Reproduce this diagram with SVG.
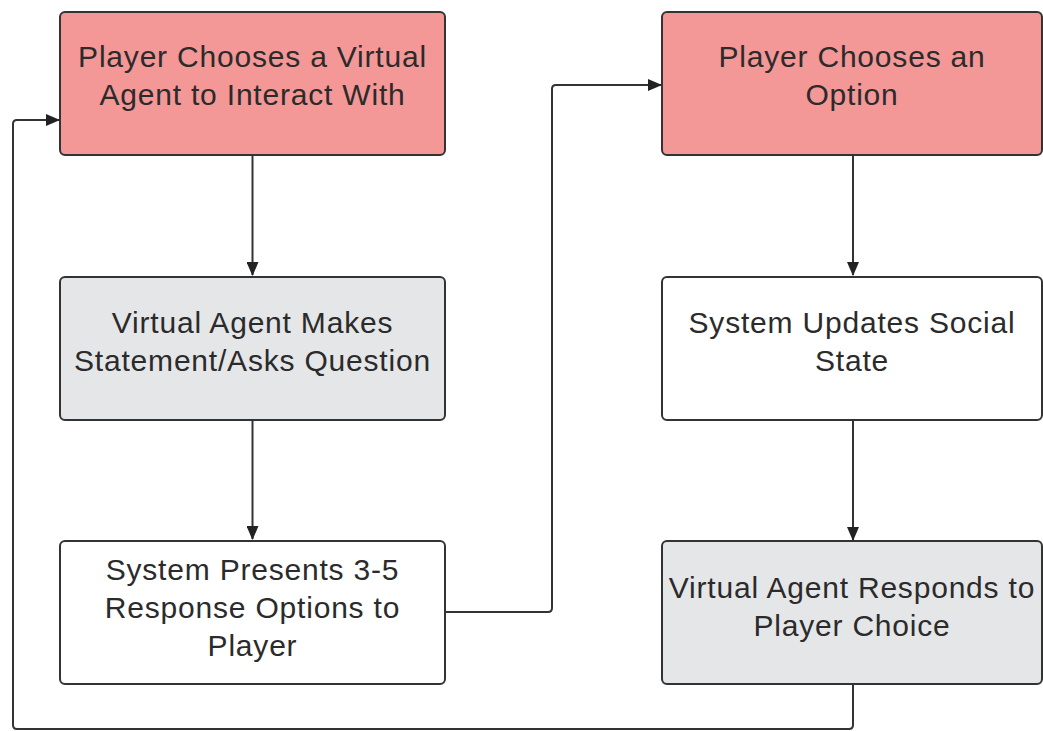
<svg xmlns="http://www.w3.org/2000/svg" width="1043" height="731" viewBox="0 0 1043 731">
<style>
.box{stroke:#333;stroke-width:2}
.red{fill:#f39797}
.gray{fill:#e5e6e8}
.white{fill:#fff}
text{font-family:"Liberation Sans",Arial,sans-serif;font-size:30px;fill:#2b2b2b;text-anchor:middle;letter-spacing:0.8px}
.conn{fill:none;stroke:#333;stroke-width:2}
</style>
<defs>
<marker id="arr" markerWidth="14" markerHeight="12" refX="13" refY="6" orient="auto" markerUnits="userSpaceOnUse">
<path d="M0,0 L14,6 L0,12 Z" fill="#222"/>
</marker>
</defs>
<rect width="1043" height="731" fill="#fff"/>
<g id="connectors">
<path class="conn" d="M252.5,155 V275" marker-end="url(#arr)"/>
<path class="conn" d="M252.5,420 V539" marker-end="url(#arr)"/>
<path class="conn" d="M445,612 H548 Q552,612 552,608 V89 Q552,85 556,85 H661" marker-end="url(#arr)"/>
<path class="conn" d="M853,155 V275" marker-end="url(#arr)"/>
<path class="conn" d="M853,420 V540" marker-end="url(#arr)"/>
<path class="conn" d="M853,684 V725 Q853,729 849,729 H17 Q13,729 13,725 V124 Q13,120 17,120 H59" marker-end="url(#arr)"/>
</g>
<g id="node1">
<rect class="box red" x="60" y="12" width="385" height="143" rx="5"/>
<text x="252.5" y="67">Player Chooses a Virtual</text>
<text x="252.5" y="105">Agent to Interact With</text>
</g>
<g id="node2">
<rect class="box gray" x="60" y="277" width="385" height="143" rx="5"/>
<text x="252.5" y="333">Virtual Agent Makes</text>
<text x="252.5" y="371">Statement/Asks Question</text>
</g>
<g id="node3">
<rect class="box white" x="60" y="541" width="385" height="143" rx="5"/>
<text x="252.5" y="580">System Presents 3-5</text>
<text x="252.5" y="618">Response Options to</text>
<text x="252.5" y="656">Player</text>
</g>
<g id="node4">
<rect class="box red" x="662" y="12" width="380" height="143" rx="5"/>
<text x="852" y="67">Player Chooses an</text>
<text x="852" y="105">Option</text>
</g>
<g id="node5">
<rect class="box white" x="662" y="277" width="380" height="143" rx="5"/>
<text x="852" y="333">System Updates Social</text>
<text x="852" y="371">State</text>
</g>
<g id="node6">
<rect class="box gray" x="662" y="541" width="380" height="143" rx="5"/>
<text x="852" y="598">Virtual Agent Responds to</text>
<text x="852" y="636">Player Choice</text>
</g>
</svg>
